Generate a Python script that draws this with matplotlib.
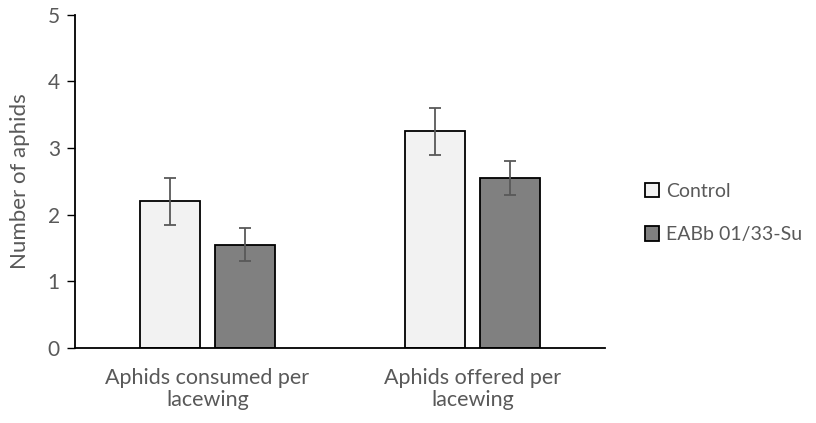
import numpy as np
import matplotlib.pyplot as plt
from matplotlib.patches import Patch

categories = ['Aphids consumed per\nlacewing', 'Aphids offered per\nlacewing']
series = ['Control', 'EABb 01/33-Su']
control = [2.2, 3.25]
control_err = [0.35, 0.35]
treated = [1.55, 2.55]
treated_err = [0.25, 0.25]

plt.rcParams['font.family'] = ['Lato', 'DejaVu Sans']
grey = '#595959'

fig = plt.figure(figsize=(8.16, 4.23), dpi=100)
ax = fig.add_axes([0.092, 0.177, 0.649, 0.788])

x = np.arange(len(categories))
w = 0.226
off = 0.1415
ax.bar(x - off, control, w, color='#F2F2F2', edgecolor='black', linewidth=1.3, zorder=2)
ax.bar(x + off, treated, w, color='#808080', edgecolor='black', linewidth=1.3, zorder=2)
ax.errorbar(x - off, control, yerr=control_err, fmt='none', ecolor=grey, elinewidth=1.3,
            capsize=4, capthick=1.3, zorder=3)
ax.errorbar(x + off, treated, yerr=treated_err, fmt='none', ecolor=grey, elinewidth=1.3,
            capsize=4, capthick=1.3, zorder=3)

ax.set_xlim(-0.5, 1.5)
ax.set_ylim(0, 5)
ax.set_yticks(range(6))
ax.set_xticks(x)
ax.set_xticklabels(categories, fontsize=15.5, color=grey, linespacing=1.15)
ax.tick_params(axis='x', length=0, pad=14)
ax.tick_params(axis='y', length=6, width=1, colors='black', labelcolor=grey, labelsize=15, pad=5)
ax.set_ylabel('Number of aphids', fontsize=16, color=grey, labelpad=13)
for s in ['top', 'right']:
    ax.spines[s].set_visible(False)
for s in ['left', 'bottom']:
    ax.spines[s].set_linewidth(1.3)

handles = [Patch(facecolor='#F2F2F2', edgecolor='black', linewidth=1.3),
           Patch(facecolor='#808080', edgecolor='black', linewidth=1.3)]
fig.legend(handles, series, loc='center left', bbox_to_anchor=(0.79, 0.496), frameon=False,
           fontsize=14, labelcolor=grey, handlelength=0.75, handleheight=0.75,
           handletextpad=0.35, labelspacing=1.35, borderpad=0, borderaxespad=0)

fig.savefig('out.png', dpi=100)
